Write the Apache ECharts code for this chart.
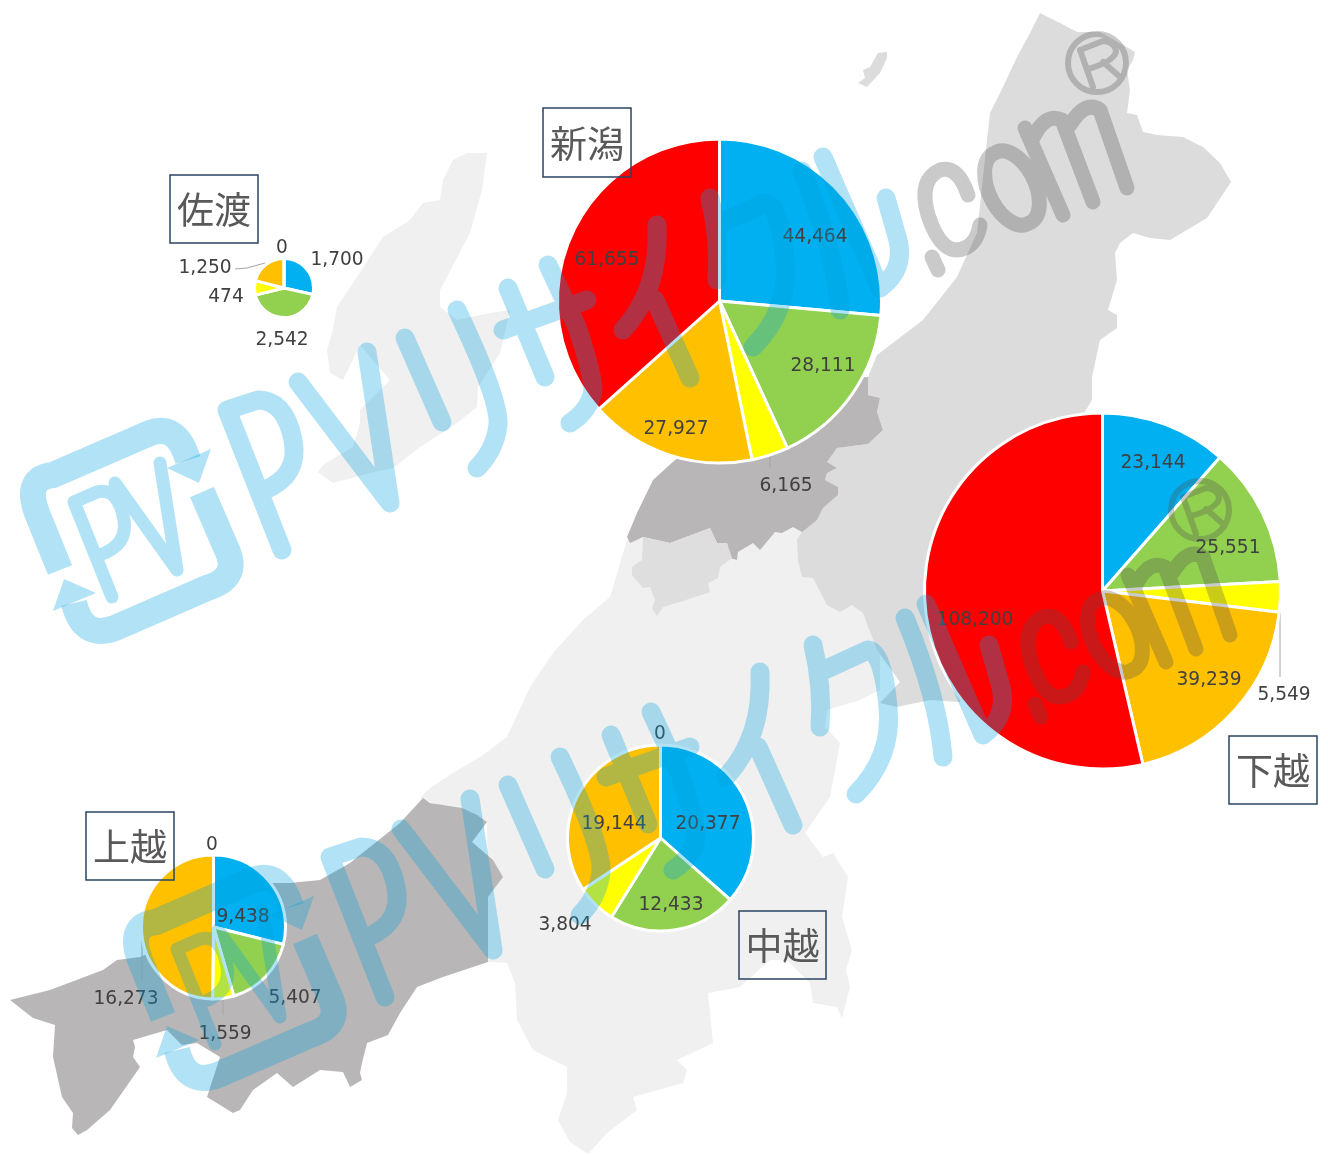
<!DOCTYPE html>
<html><head><meta charset="utf-8">
<style>html,body{margin:0;padding:0;background:#fff}#c{width:1328px;height:1155px}</style>
<script src="https://cdn.jsdelivr.net/npm/echarts@6/dist/echarts.min.js"></script>
</head><body><div id="c"></div>
<script>
// ---- data ----
const sliceNames = ['A','B','C','D','E'];
const sliceColors = ['#00b0f0','#92d050','#ffff00','#ffc000','#ff0000'];
const sado    = [1700, 2542, 474, 1250, 0];
const niigata = [44464, 28111, 6165, 27927, 61655];
const kaetsu  = [23144, 25551, 5549, 39239, 108200];
const chuetsu = [20377, 12433, 3804, 19144, 0];
const joetsu  = [9438, 5407, 1559, 16273, 0];
const regionNames = ['佐渡','新潟','下越','中越','上越'];

// ---- layout ----
const pieGeom = {
  '佐渡':{c:[284,288],r:29.5}, '新潟':{c:[719.5,301],r:162}, '下越':{c:[1102.5,591],r:178},
  '中越':{c:[660.5,838],r:93}, '上越':{c:[213.5,927],r:72}
};
const labelPos = {
  '佐渡':[[337,260],[282,340],[226,297],[205,268],[282,248]],
  '新潟':[[815,237],[823,366],[786,486],[676,429],[607,260]],
  '下越':[[1153,463],[1228,548],[1284,695],[1209,680],[975,620]],
  '中越':[[708,824],[671,905],[565,925],[614,824],[660,734]],
  '上越':[[243,917],[295,998],[225,1034],[126,999],[212,845]]
};
const leaders = {
  '佐渡':{3:[[235,269],[247,268],[265,263]]},
  '新潟':{2:[[770,456],[770,462],[770,468]]},
  '下越':{2:[[1280,597],[1280,640],[1280,677]]},
  '上越':{3:[[142,926],[142,950],[142,980]],2:[[223,997],[223,1005],[223,1015]]}
};
const boxes = {
  '佐渡':[170,175,88,68],'新潟':[543,108,88,69],'下越':[1229,736,88,68],
  '中越':[739,911,87,68],'上越':[86,812,88,68]
};
const regionValues = {'佐渡':sado,'新潟':niigata,'下越':kaetsu,'中越':chuetsu,'上越':joetsu};

// ---- background map outlines ----
const mapChuetsu = [[627,540],[610,597],[583,620],[553,653],[530,687],[507,737],[483,755],[453,773],[430,788],[420,798],[487,822],[488,962],[507,963],[515,983],[517,1020],[533,1050],[567,1067],[567,1093],[558,1120],[570,1142],[588,1154],[607,1133],[637,1110],[633,1097],[683,1083],[687,1070],[677,1060],[713,1043],[708,993],[740,987],[770,960],[787,960],[810,983],[813,1003],[837,1007],[842,1018],[850,987],[846,970],[852,950],[842,917],[848,877],[833,853],[823,857],[805,833],[830,797],[840,743],[825,727],[827,710],[860,700],[880,690],[880,600],[800,520],[700,500]];
const mapKaetsu = [[1040,13],[1060,23],[1077,32],[1100,32],[1123,45],[1135,52],[1133,60],[1127,70],[1130,90],[1127,113],[1137,115],[1143,132],[1157,135],[1183,137],[1203,147],[1220,163],[1231,182],[1217,203],[1207,218],[1170,240],[1150,238],[1133,233],[1120,243],[1115,253],[1117,280],[1108,310],[1117,315],[1117,328],[1100,340],[1092,377],[1092,400],[1080,420],[1040,600],[960,702],[930,700],[897,707],[880,703],[900,682],[890,668],[877,650],[863,613],[852,605],[840,612],[827,605],[813,578],[802,577],[798,560],[797,540],[803,530],[817,520],[823,508],[838,495],[838,487],[825,480],[827,473],[837,468],[827,462],[837,448],[868,444],[883,430],[877,412],[880,398],[868,395],[868,377],[877,355],[923,320],[957,277],[977,233],[987,140],[990,113],[1003,87],[1017,57],[1030,33]];
const mapNiigata = [[675,460],[653,480],[637,513],[627,537],[630,543],[643,537],[670,543],[697,533],[710,528],[717,543],[727,543],[730,558],[737,560],[738,552],[753,543],[760,550],[775,532],[782,533],[793,527],[802,532],[817,520],[823,508],[838,495],[838,487],[825,480],[827,473],[837,468],[827,462],[837,448],[868,444],[883,430],[877,412],[880,398],[868,395],[868,377],[800,380]];
const mapEnclave = [[643,537],[670,543],[697,533],[710,528],[717,543],[727,543],[732,558],[720,567],[718,578],[708,583],[710,592],[680,602],[663,607],[657,616],[652,608],[655,600],[650,587],[643,588],[632,575],[632,567],[642,560]];
const mapJoetsu = [[423,798],[430,803],[462,808],[477,815],[487,822],[472,842],[493,860],[503,877],[488,897],[488,962],[443,977],[417,987],[400,1013],[388,1035],[367,1043],[362,1063],[360,1073],[362,1080],[350,1087],[343,1072],[320,1070],[293,1087],[277,1073],[253,1090],[240,1110],[233,1113],[207,1097],[220,1057],[197,1043],[182,1045],[167,1030],[133,1040],[135,1047],[133,1057],[140,1067],[110,1110],[87,1130],[78,1135],[72,1128],[73,1113],[62,1097],[53,1057],[55,1025],[33,1018],[10,1000],[50,990],[103,970],[117,960],[140,957],[200,930],[270,883],[290,883],[320,880],[350,863],[400,823]];
const mapSado = [[487,153],[467,153],[453,160],[443,180],[440,200],[423,203],[410,220],[383,237],[353,283],[337,307],[332,333],[327,350],[330,373],[343,380],[360,345],[390,380],[360,410],[360,423],[353,447],[323,465],[318,472],[333,483],[370,473],[393,468],[420,447],[457,423],[477,407],[478,387],[500,353],[510,310],[490,313],[457,320],[440,307],[440,290],[470,233],[482,190]];
const mapAwa = [[887,52],[878,53],[870,67],[863,70],[865,78],[858,83],[867,87],[880,73],[887,58]];

// ---- watermark strokes ----
const wmArcs = 'M60,570 L37,513 Q24,478 53,475 L150,433 Q177,423 188,460 M202,492 L227,550 Q240,578 207,588 L115,628 Q83,640 74,603';
const wmHeads = 'M211,449 L199,483 L167,468 Z M64,579 L96,593 L53,611 Z';
const wmInner = 'M74,502 L112,597 M74,502 L97,492 Q118,487 124,520 Q128,545 100,555 M115,483 L177,570 L160,463';
const wmKana = 'M227,410 L282,550 M227,410 L258,400 Q285,400 293,440 Q300,475 265,490 M298,382 L390,503 L367,352 M405,338 L442,422 M457,310 Q500,400 498,425 Q495,450 477,468 M503,330 L587,300 M508,288 L545,377 M548,265 L577,327 Q593,375 593,390 Q590,410 570,423 M657,225 Q660,290 623,330 M655,300 L690,378 M710,198 Q720,240 717,280 M717,225 L765,203 Q780,205 785,260 Q790,310 753,347 M802,171 Q835,250 840,310 M823,157 L880,288 Q905,270 898,240 L886,198';
const wmCom = 'M932,257 L938,270 M968,195 Q958,165 940,170 Q918,180 928,215 Q942,258 965,248 Q977,243 980,225 M995,153 A22 39 -25.7 1 1 1029,223 A22 39 -25.7 1 1 995,153 M1025,128 L1063,215 M1032,140 Q1045,112 1062,120 L1093,202 M1070,125 Q1085,100 1100,110 L1127,188';
const wmReg = 'M1068,63 A29 29 0 1 1 1126,63 A29 29 0 1 1 1068,63 M1080,50 L1093,87 M1080,50 L1103,41 Q1116,42 1116,52 Q1113,62 1088,69 M1103,62 L1119,76';
const wmOffsets = [[0,0],[103,447]];

[['wmArcs',wmArcs],['wmHeads',wmHeads],['wmInner',wmInner],['wmKana',wmKana],['wmCom',wmCom],['wmReg',wmReg]]
  .forEach(([n,d])=>echarts.graphic.registerShape(n,echarts.graphic.extendPath(d,{})));

const blueWm='rgba(0,160,222,0.3)', grayWm='rgba(80,80,80,0.3)';
function wmElements(off){
  const base={x:off[0],y:off[1],z:100,silent:true};
  const stroke=(t,c,w,cap)=>Object.assign({type:t,style:{fill:'none',stroke:c,lineWidth:w,lineCap:cap||'round',lineJoin:'round'}},base);
  return [
    stroke('wmArcs',blueWm,26,'butt'),
    Object.assign({type:'wmHeads',style:{fill:blueWm}},base),
    stroke('wmInner',blueWm,13),
    stroke('wmKana',blueWm,19),
    stroke('wmCom',grayWm,15),
    stroke('wmReg',grayWm,6)
  ];
}
const poly=(pts,c)=>({type:'polygon',z:0,silent:true,shape:{points:pts},style:{fill:c}});
const graphicEls=[
  poly(mapChuetsu,'#f0f0f0'),poly(mapSado,'#f0f0f0'),
  poly(mapKaetsu,'#dcdcdc'),poly(mapAwa,'#dcdcdc'),poly(mapNiigata,'#b8b6b6'),
  poly(mapEnclave,'#dedede'),poly(mapJoetsu,'#b8b6b6')
];
regionNames.forEach(n=>{
  const b=boxes[n];
  graphicEls.push({type:'rect',z:50,silent:true,shape:{x:b[0],y:b[1],width:b[2],height:b[3]},style:{fill:'none',stroke:'#2a4460',lineWidth:1.5}});
  graphicEls.push({type:'text',z:51,silent:true,x:b[0]+b[2]/2,y:b[1]+b[3]/2+1,style:{text:n,fill:'#595959',font:'37px "Noto Sans CJK JP"',align:'center',verticalAlign:'middle'}});
});
wmOffsets.forEach(o=>graphicEls.push(...wmElements(o)));

const series=regionNames.map(n=>({
  type:'pie',name:n,center:pieGeom[n].c,radius:[0,pieGeom[n].r],startAngle:90,clockwise:true,
  avoidLabelOverlap:false,animation:false,silent:true,minAngle:0,
  itemStyle:{borderColor:'#fff',borderWidth:3},
  label:{show:true,position:'outside',color:'#404040',fontFamily:'"DejaVu Sans"',fontSize:18.6,
    formatter:p=>p.value.toLocaleString('en-US')},
  labelLine:{show:false},
  data:regionValues[n].map((v,i)=>({name:sliceNames[i],value:v,itemStyle:{color:sliceColors[i]},
    labelLine:{show:!!(leaders[n]&&leaders[n][i]),lineStyle:{color:'#a6a6a6',width:1}}})),
  labelLayout:p=>{
    const pos=labelPos[n][p.dataIndex];
    const r={x:pos[0],y:pos[1],align:'center',verticalAlign:'middle',hideOverlap:false};
    if(leaders[n]&&leaders[n][p.dataIndex]) r.labelLinePoints=leaders[n][p.dataIndex];
    return r;
  }
}));
const chart=echarts.init(document.getElementById('c'),null,{renderer:'canvas'});
chart.setOption({backgroundColor:'#fff',animation:false,graphic:{elements:graphicEls},series});
</script></body></html>
